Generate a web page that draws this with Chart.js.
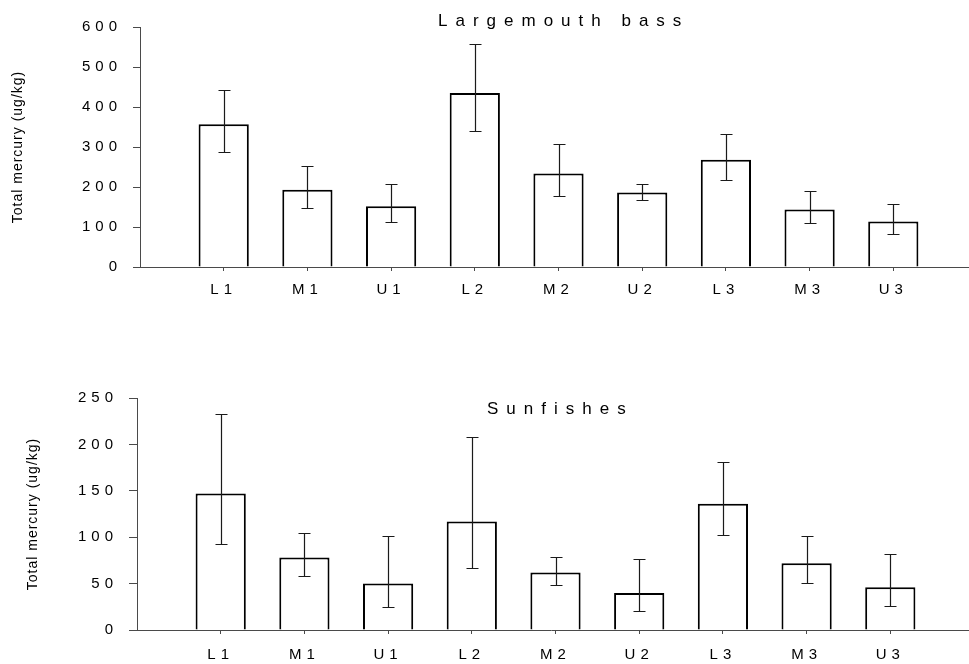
<!DOCTYPE html>
<html>
<head>
<meta charset="utf-8">
<script src="https://cdn.jsdelivr.net/npm/chart.js@4.4.1/dist/chart.umd.min.js"></script>
<style>
  html, body { margin: 0; padding: 0; background: #fff; overflow: hidden; width: 969px; height: 664px; }
  canvas { position: absolute; left: 0; }
  #bassChart { top: 0; }
  #sunChart { top: 370px; }
</style>
</head>
<body>
<canvas id="bassChart" width="990" height="310"></canvas>
<canvas id="sunChart" width="990" height="294"></canvas>
<script>
// Sites along the river
const categories = ['L1', 'M1', 'U1', 'L2', 'M2', 'U2', 'L3', 'M3', 'U3'];

// Largemouth bass: mean and error bar ends (ug/kg)
const bassMean = [357, 193, 152, 435, 234, 186, 268, 144, 114];
const bassHigh = [443, 252, 207, 557, 308, 207, 332, 189, 158];
const bassLow  = [287, 148, 112, 341, 178, 167, 217, 110, 83];
const bassTicks = [0, 100, 200, 300, 400, 500, 600];

// Sunfishes
const sunMean = [147, 78, 50, 117, 62, 40, 136, 72, 46];
const sunHigh = [233, 105, 101, 208, 79, 77, 181, 101, 82];
const sunLow  = [93, 58, 25, 67, 49, 21, 102, 51, 26];
const sunTicks = [0, 50, 100, 150, 200, 250];

const FONT = '"Liberation Sans", Arial, sans-serif';
const AXIS = '#4a4a4a';

// spaced-out text like the original, plus titles drawn inside the plot
const textPlugin = {
    id: 'textPlugin',
    beforeDraw(chart) {
        chart.ctx.letterSpacing = '5px';
    },
    afterDraw(chart) {
        const ctx = chart.ctx;
        const ds = chart.data.datasets[0];
        const area = chart.chartArea;
        ctx.save();
        ctx.fillStyle = '#000';
        ctx.letterSpacing = '8px';
        ctx.font = '17px ' + FONT;
        ctx.textAlign = 'left';
        ctx.textBaseline = 'alphabetic';
        ctx.fillText(ds.panelTitle, ds.titleX, ds.titleY);

        ctx.letterSpacing = '1px';
        ctx.font = '14px ' + FONT;
        ctx.translate(ds.yTitleX, (area.top + area.bottom) / 2);
        ctx.rotate(-Math.PI / 2);
        ctx.textAlign = 'center';
        ctx.textBaseline = 'middle';
        ctx.fillText('Total mercury (ug/kg)', 0, 0);
        ctx.restore();
        ctx.letterSpacing = '0px';
    }
};

const errorBars = {
    id: 'errorBars',
    afterDatasetsDraw(chart) {
        const ctx = chart.ctx;
        const yScale = chart.scales.y;
        const ds = chart.data.datasets[0];
        const meta = chart.getDatasetMeta(0);
        ctx.save();
        ctx.strokeStyle = '#1a1a1a';
        ctx.lineWidth = 1.2;
        ds.errHigh.forEach((hi, i) => {
            const bar = meta.data[i + 1];
            const x = Math.round(bar.x) + 0.5;
            const yh = Math.round(yScale.getPixelForValue(hi)) + 0.5;
            const yl = Math.round(yScale.getPixelForValue(ds.errLow[i])) + 0.5;
            ctx.beginPath();
            ctx.moveTo(x, yh); ctx.lineTo(x, yl);
            ctx.moveTo(x - 6, yh); ctx.lineTo(x + 6, yh);
            ctx.moveTo(x - 6, yl); ctx.lineTo(x + 6, yl);
            ctx.stroke();
        });
        ctx.restore();
    }
};

function makeChart(id, mean, high, low, ticks, cfg) {
    const labels = [''].concat(categories, ['']);
    const n = labels.length - 1;
    return new Chart(document.getElementById(id), {
        type: 'bar',
        data: {
            labels: labels,
            datasets: [{
                data: [null].concat(mean, [null]),
                errHigh: high,
                errLow: low,
                panelTitle: cfg.title,
                titleX: cfg.titleX,
                titleY: cfg.titleY,
                yTitleX: cfg.yTitleX,
                backgroundColor: '#fff',
                borderColor: '#000',
                borderWidth: 2,
                borderSkipped: 'bottom',
                barPercentage: 0.6,
                categoryPercentage: 1
            }]
        },
        options: {
            responsive: false,
            animation: false,
            layout: { padding: { top: cfg.padTop, right: cfg.padRight, left: 0, bottom: 0 } },
            plugins: { legend: { display: false }, tooltip: { enabled: false } },
            scales: {
                x: {
                    type: 'category',
                    offset: false,
                    grid: {
                        offset: false,
                        drawOnChartArea: false,
                        tickLength: 4,
                        color: c => (c.index === 0 || c.index === n) ? 'rgba(0,0,0,0)' : AXIS
                    },
                    border: { display: false },
                    ticks: { autoSkip: false, maxRotation: 0, color: '#000', padding: cfg.xPad, font: { size: 15, family: FONT } },
                    afterFit: s => { s.height = cfg.xHeight; }
                },
                y: {
                    min: ticks[0],
                    max: ticks[ticks.length - 1],
                    grid: { drawOnChartArea: false, tickLength: cfg.yTick, color: AXIS },
                    border: { color: AXIS, width: 1 },
                    ticks: { stepSize: ticks[1] - ticks[0], color: '#000', padding: cfg.yPad, font: { size: 15, family: FONT } },
                    afterFit: s => { s.width = cfg.yWidth; }
                }
            }
        },
        plugins: [textPlugin, errorBars, {
            id: 'baseline',
            afterDatasetsDraw(chart) {
                // x axis line running under the bars and left past the y axis
                const ctx = chart.ctx;
                const yPix = Math.round(chart.scales.y.getPixelForValue(0)) + 0.5;
                ctx.save();
                ctx.strokeStyle = AXIS;
                ctx.lineWidth = 1;
                ctx.beginPath();
                ctx.moveTo(chart.chartArea.left - cfg.yTick, yPix);
                ctx.lineTo(chart.chartArea.right, yPix);
                ctx.stroke();
                ctx.restore();
            }
        }]
    });
}

makeChart('bassChart', bassMean, bassHigh, bassLow, bassTicks, {
    title: 'Largemouth bass', titleX: 438, titleY: 26, yTitleX: 18,
    padTop: 27, padRight: 13, xHeight: 43, xPad: 10, yTick: 7, yPad: 11, yWidth: 140
});

makeChart('sunChart', sunMean, sunHigh, sunLow, sunTicks, {
    title: 'Sunfishes', titleX: 487, titleY: 44, yTitleX: 33,
    padTop: 28, padRight: 16, xHeight: 34, xPad: 12, yTick: 8, yPad: 11, yWidth: 137
});
</script>
</body>
</html>
